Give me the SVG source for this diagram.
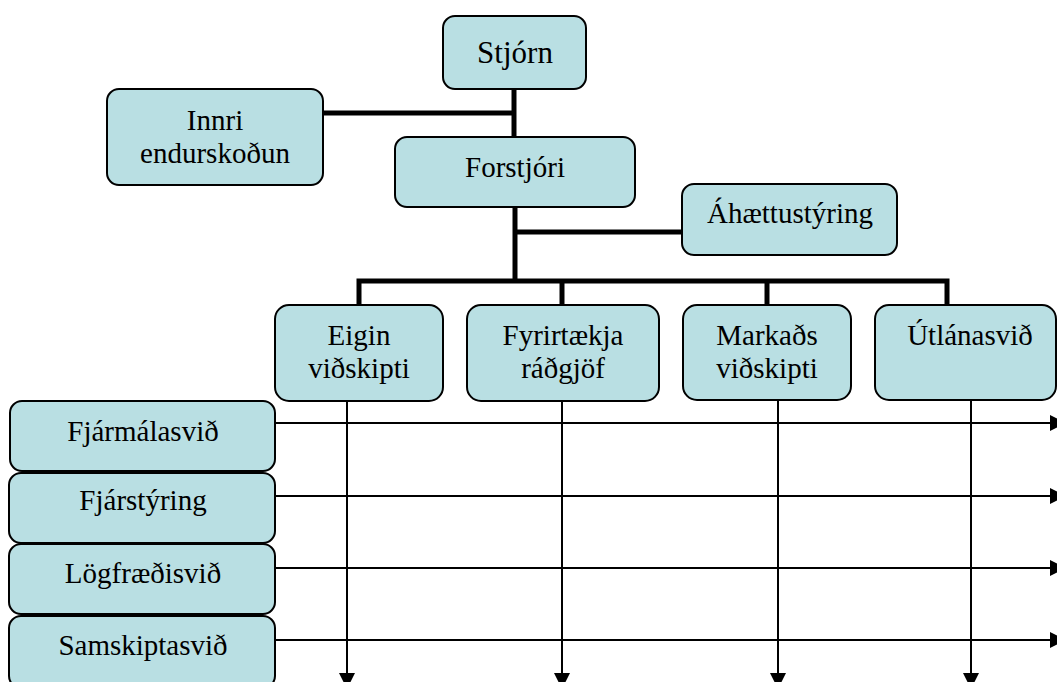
<svg xmlns="http://www.w3.org/2000/svg" width="1057" height="682" viewBox="0 0 1057 682">
<style>
.box{fill:#B9DFE3;stroke:#000;stroke-width:2}
.t{font-family:'Liberation Serif','Times New Roman',serif;font-size:29px;fill:#000;text-anchor:middle}
.thick{fill:none;stroke:#000;stroke-width:5;stroke-linejoin:miter}
.thin{fill:none;stroke:#000;stroke-width:2}
</style>
<defs>
<marker id="arr" markerUnits="userSpaceOnUse" markerWidth="16" markerHeight="16" refX="16" refY="8" orient="auto">
<path d="M0,0 L16,8 L0,16 z" fill="#000"/>
</marker>
</defs>
<rect width="1057" height="682" fill="#fff"/>
<g id="connectors">
<path class="thick" d="M514,89 V137"/>
<path class="thick" d="M323,113 H514"/>
<path class="thick" d="M515,207 V281"/>
<path class="thick" d="M515,232 H682"/>
<path class="thick" d="M359,305 V281 H947 V305"/>
<path class="thick" d="M562,281 V305"/>
<path class="thick" d="M767,281 V305"/>
<path class="thin" marker-end="url(#arr)" d="M347,401 V689"/>
<path class="thin" marker-end="url(#arr)" d="M562,401 V689"/>
<path class="thin" marker-end="url(#arr)" d="M778,400 V689"/>
<path class="thin" marker-end="url(#arr)" d="M971,400 V689"/>
<path class="thin" marker-end="url(#arr)" d="M275,423 H1066"/>
<path class="thin" marker-end="url(#arr)" d="M275,496 H1066"/>
<path class="thin" marker-end="url(#arr)" d="M275,568 H1066"/>
<path class="thin" marker-end="url(#arr)" d="M275,640 H1066"/>
</g>
<g id="stjorn"><rect class="box" x="443" y="16" width="143" height="73" rx="12"/><text class="t" x="515" y="63" style="font-size:31px">Stjórn</text></g>
<g id="innri"><rect class="box" x="107" y="89" width="216" height="96" rx="12"/><text class="t" x="215" y="130">Innri</text><text class="t" x="215" y="163">endurskoðun</text></g>
<g id="forstjori"><rect class="box" x="395" y="137" width="240" height="70" rx="12"/><text class="t" x="515" y="177">Forstjóri</text></g>
<g id="ahaettu"><rect class="box" x="682" y="184" width="215" height="71" rx="12"/><text class="t" x="790" y="223">Áhættustýring</text></g>
<g id="eigin"><rect class="box" x="275" y="305" width="168" height="96" rx="14"/><text class="t" x="359" y="345">Eigin</text><text class="t" x="359" y="378">viðskipti</text></g>
<g id="fyrirtaekja"><rect class="box" x="467" y="305" width="192" height="96" rx="14"/><text class="t" x="563" y="345">Fyrirtækja</text><text class="t" x="563" y="378">ráðgjöf</text></g>
<g id="markads"><rect class="box" x="683" y="305" width="168" height="95" rx="14"/><text class="t" x="767" y="345">Markaðs</text><text class="t" x="767" y="378">viðskipti</text></g>
<g id="utlana"><rect class="box" x="875" y="305" width="181" height="95" rx="14"/><text class="t" x="970" y="345">Útlánasvið</text></g>
<g id="fjarmala"><rect class="box" x="10" y="401" width="265" height="70" rx="12"/><text class="t" x="143" y="441">Fjármálasvið</text></g>
<g id="fjarstyring"><rect class="box" x="9" y="473" width="266" height="70" rx="12"/><text class="t" x="143" y="510">Fjárstýring</text></g>
<g id="logfraedi"><rect class="box" x="9" y="544" width="266" height="70" rx="12"/><text class="t" x="143" y="583">Lögfræðisvið</text></g>
<g id="samskipta"><rect class="box" x="9" y="616" width="266" height="72" rx="12"/><text class="t" x="143" y="655">Samskiptasvið</text></g>
</svg>
